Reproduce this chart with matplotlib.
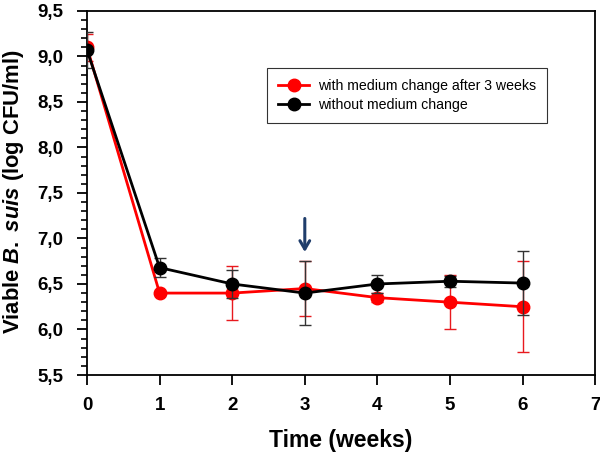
import matplotlib
matplotlib.use("Agg")
import matplotlib.pyplot as plt
from matplotlib.lines import Line2D
from matplotlib.ticker import MultipleLocator, FuncFormatter

plt.rcParams['font.family'] = ['Liberation Sans', 'DejaVu Sans']
plt.rcParams['mathtext.fontset'] = 'custom'
plt.rcParams['mathtext.it'] = 'Liberation Sans:italic:bold'
plt.rcParams['mathtext.rm'] = 'Liberation Sans:bold'

weeks = [0, 1, 2, 3, 4, 5, 6]
with_change = [9.10, 6.40, 6.40, 6.45, 6.35, 6.30, 6.25]
with_change_err = [0.15, 0.02, 0.30, 0.30, 0.05, 0.30, 0.50]
without_change = [9.07, 6.68, 6.50, 6.40, 6.50, 6.53, 6.51]
without_change_err = [0.20, 0.10, 0.15, 0.35, 0.10, 0.06, 0.35]
series_labels = ['with medium change after 3 weeks', 'without medium change']

fig = plt.figure(figsize=(6, 4.54), dpi=100)
ax = fig.add_axes([0.145, 0.174, 0.847, 0.802])

ax.errorbar(weeks, with_change, yerr=with_change_err, color='#ff0000', lw=2,
            marker='o', ms=9, elinewidth=1, ecolor='#e8191e', capsize=4.5,
            capthick=1, zorder=3)
ax.errorbar(weeks, without_change, yerr=without_change_err, color='black', lw=2,
            marker='o', ms=9, elinewidth=1, ecolor='#333333', capsize=4.5,
            capthick=1, zorder=4)

# arrow marking the medium change
ax.annotate('', xy=(3, 6.82), xytext=(3, 7.25),
            arrowprops=dict(arrowstyle='->,head_width=0.35,head_length=0.6',
                            color='#1f3d6b', lw=2.2))

ax.set_xlim(0, 7)
ax.set_ylim(5.5, 9.5)
ax.xaxis.set_major_locator(MultipleLocator(1))
ax.yaxis.set_major_locator(MultipleLocator(0.5))
ax.yaxis.set_minor_locator(MultipleLocator(0.1))
ax.yaxis.set_major_formatter(FuncFormatter(lambda v, p: f"{v:.1f}".replace('.', ',')))
ax.tick_params(axis='both', which='major', direction='out', length=7, width=1.3,
               labelsize=13.5)
ax.tick_params(axis='x', which='major', pad=9)
ax.tick_params(axis='y', which='major', pad=10)
ax.tick_params(axis='y', which='minor', direction='out', length=4, width=1.2)
for lab in ax.get_xticklabels() + ax.get_yticklabels():
    lab.set_fontweight('bold')
for s in ax.spines.values():
    s.set_linewidth(1.3)

ax.set_xlabel('Time (weeks)', fontsize=16.5, fontweight='bold')
ax.xaxis.set_label_coords(0.5, -0.148)
ax.set_ylabel(r'Viable $\mathit{B.}$ $\mathit{suis}$ (log CFU/ml)', fontsize=15.8,
              fontweight='bold')
ax.yaxis.set_label_coords(-0.12, 0.505)

handles = [Line2D([], [], color='#ff0000', lw=2, marker='o', ms=9),
           Line2D([], [], color='black', lw=2, marker='o', ms=9)]
leg = ax.legend(handles, series_labels, loc='upper left',
                bbox_to_anchor=(0.354, 0.843), borderaxespad=0, fontsize=10.2,
                frameon=True, fancybox=False, edgecolor='black',
                handlelength=2.2, handletextpad=0.6, borderpad=0.8,
                labelspacing=0.3)
leg.get_frame().set_linewidth(0.8)

fig.savefig('out.png', dpi=100)
